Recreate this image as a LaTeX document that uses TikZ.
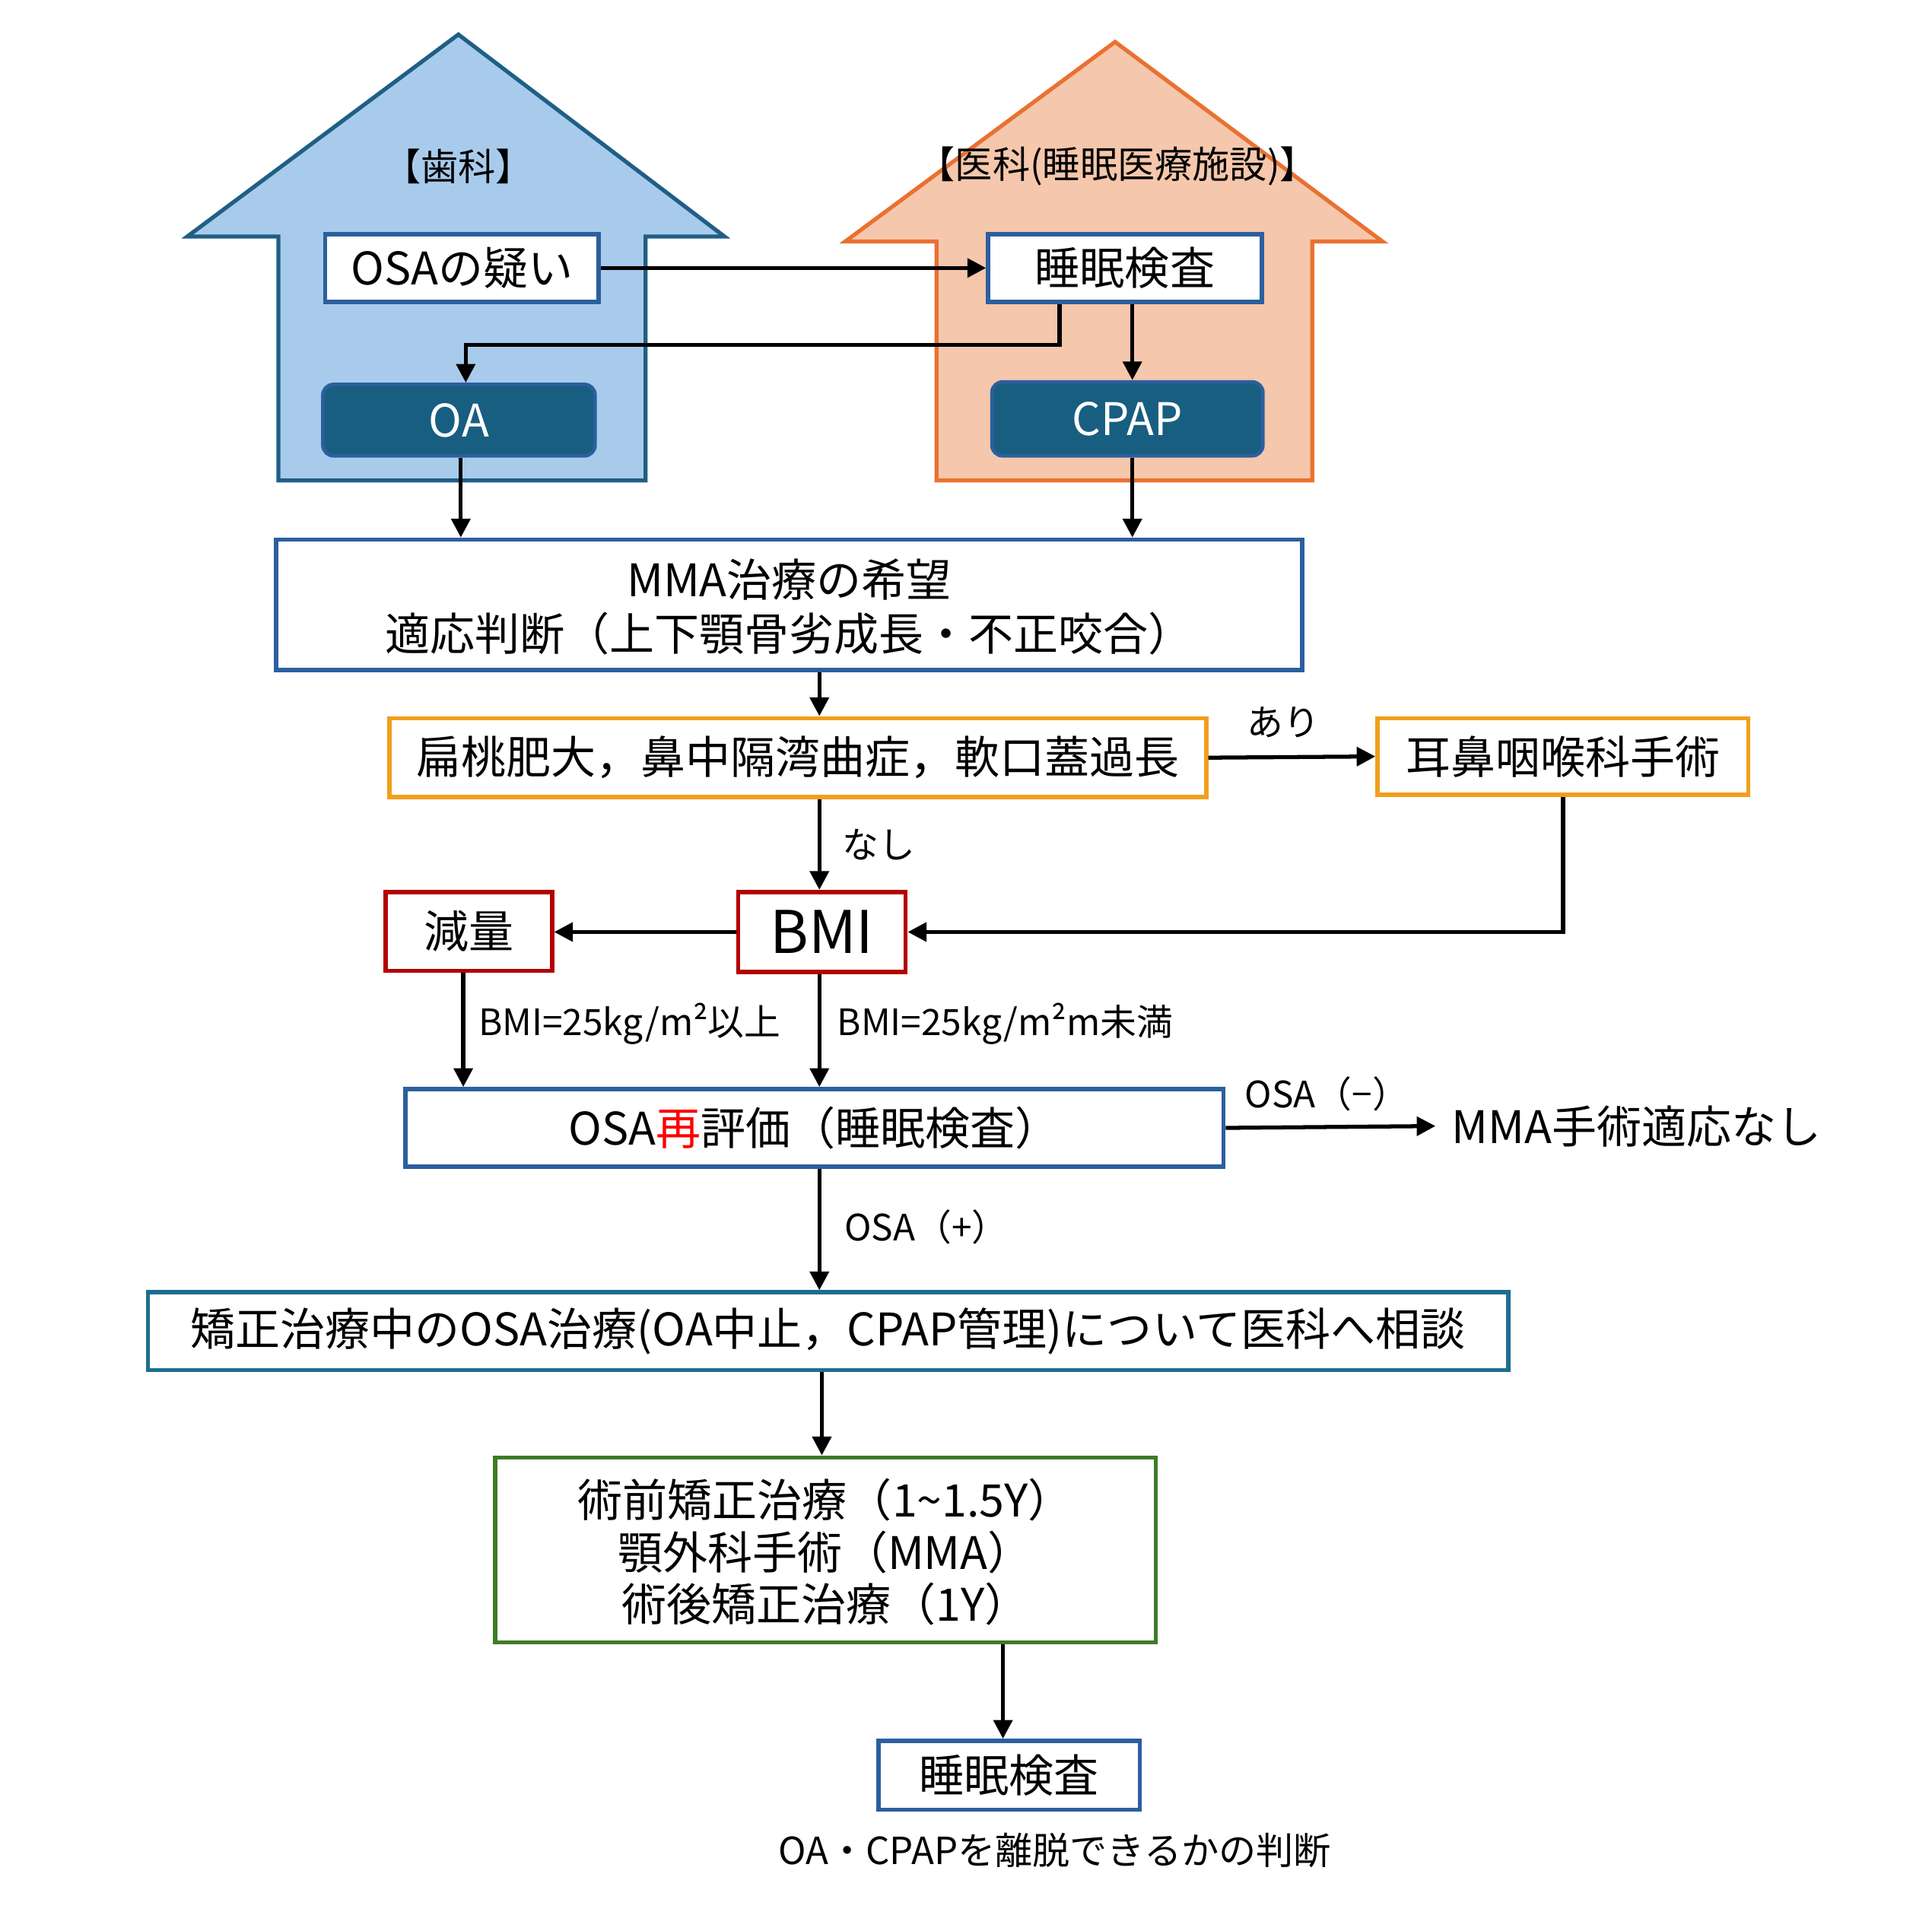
\documentclass[tikz,border=0pt]{standalone}
\usepackage{fontspec}
\setmainfont{Noto Sans CJK JP}
\usetikzlibrary{arrows.meta,calc}
\definecolor{hfillL}{HTML}{A9CBEB}
\definecolor{hlineL}{HTML}{1F5F86}
\definecolor{hfillR}{HTML}{F5C7AC}
\definecolor{hlineR}{HTML}{E97132}
\definecolor{bblue}{HTML}{2B5F9E}
\definecolor{dfill}{HTML}{185E80}
\definecolor{borange}{HTML}{F19F1C}
\definecolor{bred}{HTML}{B20000}
\definecolor{bteal}{HTML}{1D6E91}
\definecolor{bgreen}{HTML}{3E7B27}
\tikzset{
  wh/.style 2 args={minimum width={#1*0.0162cm}, minimum height={#2*0.0162cm}},
  big/.style={font=\fontsize{16.8}{20.3}\selectfont},
  small/.style={font=\fontsize{13.6}{16}\selectfont},
  box/.style={draw, fill=white, line width=1.6pt, inner sep=0pt, big},
  bluebox/.style={box, draw=bblue},
  darkbox/.style={draw=bblue, fill=dfill, text=white, line width=1.3pt, rounded corners=4pt, inner sep=0pt, big},
  orangebox/.style={box, draw=borange},
  redbox/.style={box, draw=bred},
  tealbox/.style={box, draw=bteal},
  greenbox/.style={box, draw=bgreen},
  arr/.style={-{Triangle[length=7pt,width=7pt]}, line width=1.5pt},
  lbl/.style={small, inner sep=0pt},
}
\begin{document}
\begin{tikzpicture}[x=0.0162cm, y=-0.0162cm]
\useasboundingbox (0,0) rectangle (1568,1567);
% houses
\draw[fill=hfillL, draw=hlineL, line width=1.5pt, line join=miter]
  (152,192) -- (372,28) -- (588,192) -- (524,192) -- (524,390) -- (226,390) -- (226,192) -- cycle;
\draw[fill=hfillR, draw=hlineR, line width=1.5pt, line join=miter]
  (686,196) -- (905,34) -- (1122,196) -- (1065,196) -- (1065,390) -- (760,390) -- (760,196) -- cycle;
\node[font=\fontsize{14}{16}\selectfont] (hd1) at (372,135) {【歯科】};
\node[font=\fontsize{14}{16}\selectfont] (hd2) at (907,135) {【医科(睡眠医療施設)】};

% nodes
\node[bluebox, wh={222}{55}] (osa) at (375,217.5) {OSAの疑い};
\node[bluebox, wh={222}{55}] (suimin) at (913,217.5) {睡眠検査};
\node[darkbox, wh={221}{58}] (oa) at (372.5,341) {OA};
\node[darkbox, wh={220}{60}] (cpap) at (915,340) {CPAP};
\node[bluebox, wh={833}{106}, align=center, text depth=0pt] (mma) at (640.5,491) {MMA治療の希望\\適応判断（上下顎骨劣成長・不正咬合）};
\node[orangebox, wh={663}{64}] (hen) at (647.5,615) {扁桃肥大，鼻中隔湾曲症，軟口蓋過長};
\node[orangebox, wh={301}{62}] (jibi) at (1268.5,614) {耳鼻咽喉科手術};
\node[redbox, wh={136}{65}, font=\fontsize{22}{26}\selectfont] (bmi) at (667,756.5) {BMI};
\node[redbox, wh={135}{64}] (genryo) at (380.5,756) {減量};
\node[bluebox, wh={664}{63}] (osa2) at (661,915.5) {OSA\textcolor{red}{再}評価（睡眠検査）};
\node[big, anchor=west, inner sep=0pt, inner xsep=6pt] (nomma) at (1165,914) {MMA手術適応なし};
\node[tealbox, wh={1104}{63}] (kyosei) at (672,1080.5) {矯正治療中のOSA治療(OA中止，CPAP管理)について医科へ相談};
\node[greenbox, wh={536}{150}, align=center, font=\fontsize{16.8}{19.6}\selectfont, text depth=-1pt] (green) at (670,1258) {術前矯正治療（1\textasciitilde 1.5Y）\\顎外科手術（MMA）\\術後矯正治療（1Y）};
\node[bluebox, wh={212}{56}] (suimin2) at (819,1441) {睡眠検査};
\node[font=\fontsize{14}{17}\selectfont, inner sep=0pt] (judge) at (856,1502) {OA・CPAPを離脱できるかの判断};

% helper coordinates
\coordinate (ax) at (665,0);
\coordinate (k1) at (860,280);
\coordinate (k2) at (378,0);
\coordinate (k3) at (376,0);
\coordinate (k4) at (814,0);
\coordinate (k5) at (919,0);
\coordinate (k6) at (667,0);
\coordinate (k7) at (374,0);

% connectors
\draw[arr] (osa.east) -- (suimin.west);
\draw[arr] (suimin.south -| k1) -- (k1) -| (oa.north -| k2);
\draw[arr] (suimin.south -| k5) -- (cpap.north -| k5);
\draw[arr] (oa.south -| k7) -- (mma.north -| k7);
\draw[arr] (cpap.south -| k5) -- (mma.north -| k5);
\draw[arr] (mma.south -| ax) -- (hen.north -| ax);
\draw[arr] (hen.east) -- (jibi.west) node[lbl, pos=0.45, above=6.5pt] {あり};
\draw[arr] (jibi.south) |- (bmi.east);
\draw[arr] (hen.south -| ax) -- (bmi.north -| ax) node[lbl, midway, right=8pt] {なし};
\draw[arr] (bmi.west) -- (bmi.west -| genryo.east);
\draw[arr] (genryo.south -| k3) -- (osa2.north -| k3);
\draw[arr] (bmi.south -| ax) -- (osa2.north -| ax);
\node[lbl, anchor=west] (l1) at (388,831) {BMI=25kg/m²以上};
\node[lbl, anchor=west] (l2) at (679,831) {BMI=25kg/m²m未満};
\draw[arr] (osa2.east) -- (nomma.west);
\node[lbl, anchor=west] (l3) at (1010,888) {OSA（−）};
\draw[arr] (osa2.south -| ax) -- (kyosei.north -| ax);
\node[lbl, anchor=west] (l4) at (685,996) {OSA（+）};
\draw[arr] (kyosei.south -| k6) -- (green.north -| k6);
\draw[arr] (green.south -| k4) -- (suimin2.north -| k4);
\end{tikzpicture}
\end{document}
